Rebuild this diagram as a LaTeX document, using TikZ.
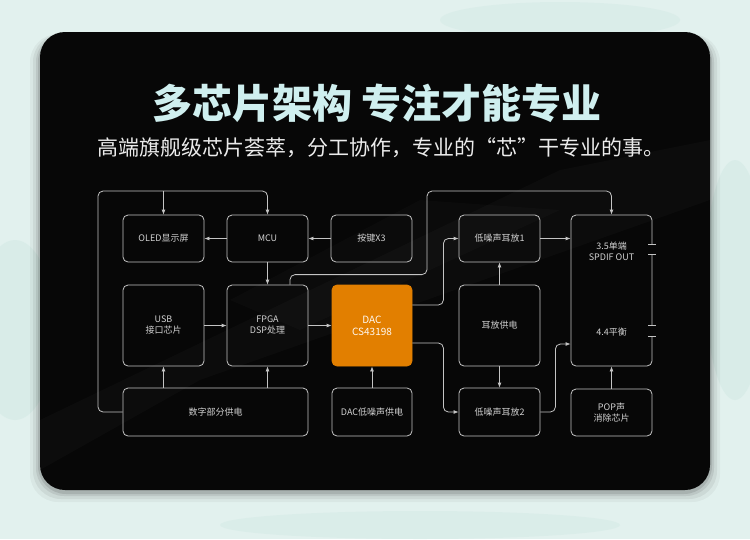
\documentclass[tikz,border=0pt]{standalone}
\usepackage{fontspec}
\setmainfont{Noto Sans CJK SC}
\usetikzlibrary{arrows.meta,calc}
\definecolor{bgmint}{HTML}{E2F1EE}
\definecolor{bgmint2}{HTML}{D3EAE5}
\definecolor{panel}{HTML}{070707}
\definecolor{linec}{HTML}{C4C4C4}
\definecolor{txtc}{HTML}{D2D2D2}
\definecolor{titlec}{HTML}{CFEFEF}
\definecolor{dacor}{HTML}{E27F00}
\tikzset{
  box/.style={draw=linec, line width=0.8pt, rounded corners=5pt, text=txtc,
    font=\fontsize{9}{11}\selectfont, align=center, inner sep=0pt},
  conn/.style={draw=linec, line width=0.8pt, rounded corners=5pt,
    -{Latex[length=5pt,width=4pt]}},
  plain/.style={draw=linec, line width=0.8pt},
  lbl/.style={text=txtc, font=\fontsize{9}{11}\selectfont, align=center, inner sep=0pt}
}
\begin{document}
\begin{tikzpicture}[x=1pt,y=-1pt]
\useasboundingbox (0,0) rectangle (750,539);
% background
\fill[bgmint] (0,0) rectangle (750,539);
\fill[bgmint2, opacity=0.6] (15,330) ellipse [x radius=40, y radius=90];
\fill[bgmint2, opacity=0.6] (735,280) ellipse [x radius=30, y radius=120];
\fill[bgmint2, opacity=0.5] (560,20) ellipse [x radius=120, y radius=18];
\fill[bgmint2, opacity=0.5] (420,525) ellipse [x radius=200, y radius=14];
% shadow
\foreach \o/\a in {10/0.04,7/0.06,4/0.08,2/0.1}{
  \fill[black, opacity=\a, rounded corners=28pt] (40-\o,34) rectangle (710+\o,490+\o+2);
}
% panel
\fill[panel, rounded corners=25pt] (40,32) rectangle (710,490);
\begin{scope}
\clip[rounded corners=25pt] (40,32) rectangle (710,490);
\fill[white, opacity=0.025] (40,420) -- (560,170) -- (710,140) -- (710,200) -- (200,380) -- (40,470) -- cycle;
\fill[white, opacity=0.02] (230,300) -- (420,200) -- (560,210) -- (300,330) -- cycle;
\end{scope}
% title
\node[text=titlec, font=\fontsize{40}{44}\selectfont\bfseries] (title) at (377,103) {多芯片架构 专注才能专业};
\node[text=white!92!black, font=\fontsize{21}{24}\selectfont] (sub) at (381,148) {高端旗舰级芯片荟萃，分工协作，专业的“芯”干专业的事。};
% boxes
\node[box, minimum width=81pt, minimum height=47pt] (oled) at (163.5,238.5) {OLED显示屏};
\node[box, minimum width=81pt, minimum height=47pt] (mcu) at (267.5,238.5) {MCU};
\node[box, minimum width=81pt, minimum height=47pt] (key) at (371.5,238.5) {按键X3};
\node[box, minimum width=81pt, minimum height=47pt] (amp1) at (499.5,238.5) {低噪声耳放1};
\node[box, minimum width=81pt, minimum height=151pt] (out) at (611.5,290.5) {};
\node[lbl] (t35) at (611.5,251) {3.5单端\\SPDIF OUT};
\node[lbl] (t44) at (611.5,332) {4.4平衡};
\node[box, minimum width=81pt, minimum height=47pt] (pop) at (611.5,412.5) {POP声\\消除芯片};
\node[box, minimum width=81pt, minimum height=81pt] (usb) at (163.5,325.5) {USB\\接口芯片};
\node[box, minimum width=81pt, minimum height=81pt] (fpga) at (267.5,325.5) {FPGA\\DSP处理};
\node[box, fill=dacor, draw=dacor, text=white!95!orange, minimum width=80pt, minimum height=81pt,
  font=\fontsize{10}{12}\selectfont] (dac) at (372,325.5) {DAC\\CS43198};
\node[box, minimum width=81pt, minimum height=81pt] (hpp) at (499.5,325.5) {耳放供电};
\node[box, minimum width=185pt, minimum height=48pt] (dpw) at (215.5,412) {数字部分供电};
\node[box, minimum width=80pt, minimum height=48pt] (dacpw) at (372,412) {DAC低噪声供电};
\node[box, minimum width=81pt, minimum height=48pt] (amp2) at (499.5,412) {低噪声耳放2};
% jack marks on right edge of output box
\coordinate (ja) at ($(out.north east)+(0,30)$);
\coordinate (jb) at ($(out.north east)+(0,40)$);
\coordinate (jc) at ($(out.north east)+(0,111)$);
\coordinate (jd) at ($(out.north east)+(0,122)$);
\fill[panel] ($(ja)+(-2,0.6)$) rectangle ($(jb)+(2,-0.6)$);
\fill[panel] ($(jc)+(-2,0.6)$) rectangle ($(jd)+(2,-0.6)$);
\foreach \c in {ja,jb,jc,jd}{
  \draw[plain] ($(\c)+(-4,0)$) -- ($(\c)+(4,0)$);
}
% connectors
\coordinate (topl) at (98,191);
\coordinate (topr) at (427,191);
\draw[conn] (dpw.west) -| (topl) -| (mcu.north);
\draw[conn] (oled.north |- topl) -- (oled.north);
\draw[conn] (mcu.west) -- (oled.east);
\draw[conn] (key.west) -- (mcu.east);
\draw[conn] (mcu.south) -- (fpga.north);
\draw[conn] ([xshift=22.5pt]fpga.north) -- ++(0,-10) -| (topr) -| (out.north);
\draw[conn] ([yshift=20.5pt]dac.east) -- ++(31,0) |- (amp1.west);
\draw[conn] ([yshift=-17.5pt]dac.east) -- ++(31,0) |- (amp2.west);
\draw[conn] (hpp.north) -- (amp1.south);
\draw[conn] (hpp.south) -- (amp2.north);
\draw[conn] (amp1.east) -- (out.west |- amp1.east);
\draw[conn] (amp2.east) -- ++(15,0) |- ([yshift=-53.5pt]out.west);
\draw[conn] (pop.north) -- (out.south);
\draw[conn] (usb.south |- dpw.north) -- (usb.south);
\draw[conn] (fpga.south |- dpw.north) -- (fpga.south);
\draw[conn] (usb.east) -- (fpga.west);
\draw[conn] (fpga.east) -- (dac.west);
\draw[conn] (dacpw.north) -- (dac.south);
\end{tikzpicture}
\end{document}
